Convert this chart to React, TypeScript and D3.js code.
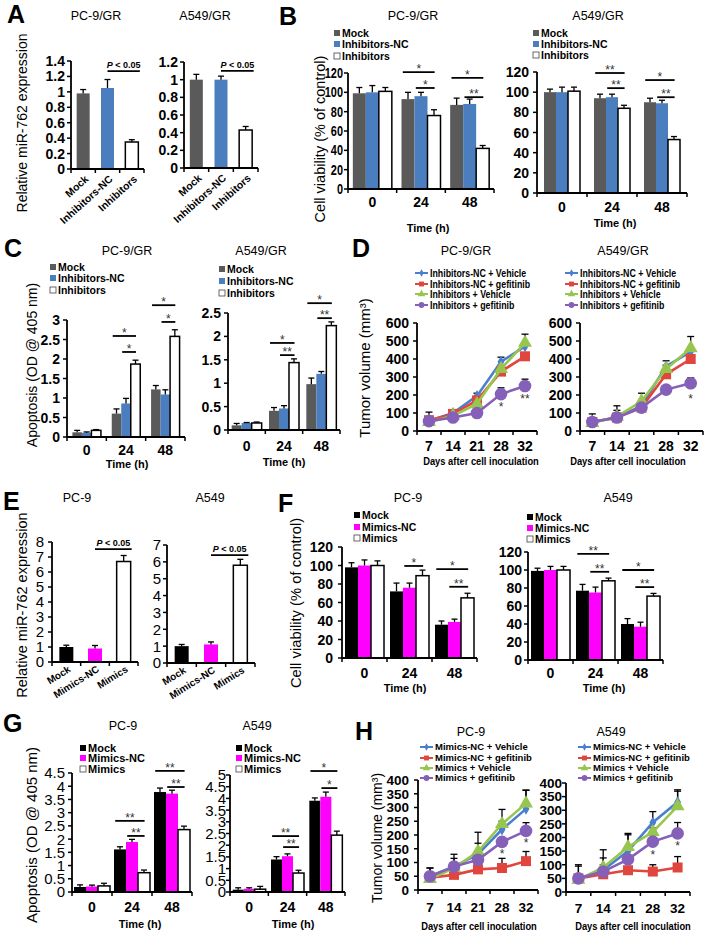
import React from "react";
import * as d3 from "d3";

const FONT = "'Liberation Sans', Arial, Helvetica, sans-serif";

// ---------------- categories & labels ----------------
const inhibitorGroups = ["Mock", "Inhibitors-NC", "Inhibitors"];
const mimicGroups = ["Mock", "Mimics-NC", "Mimics"];
const timePoints = ["0", "24", "48"];
const days = ["7", "14", "21", "28", "32"];
const inhibitorLineNames = ["Inhibitors-NC + Vehicle", "Inhibitors-NC + gefitinib", "Inhibitors + Vehicle", "Inhibitors + gefitinib"];
const mimicLineNames = ["Mimics-NC + Vehicle", "Mimics-NC + gefitinib", "Mimics + Vehicle", "Mimics + gefitinib"];

// ---------------- A: relative miR-762 (inhibitors) ----------------
const aPC9 = [0.98, 1.05, 0.35];
const aPC9Err = [0.05, 0.11, 0.03];
const aA549 = [1.0, 1.0, 0.43];
const aA549Err = [0.06, 0.04, 0.04];
const aPC9PLine = 1.27;
const aA549PLine = 1.1;

// ---------------- B: cell viability (inhibitors) ----------------
const bPC9Mock = [99, 93, 87];
const bPC9MockErr = [6, 7, 7];
const bPC9NC = [100, 96, 88];
const bPC9NCErr = [7, 4, 5];
const bPC9Inh = [101, 76, 42];
const bPC9InhErr = [4, 6, 3];
const bA549Mock = [100, 94, 90];
const bA549MockErr = [3, 4, 4];
const bA549NC = [100, 95, 89];
const bA549NCErr = [5, 3, 3];
const bA549Inh = [101, 84, 53];
const bA549InhErr = [4, 3, 3];
const bPC9Sig: [number, number, number, number, string][] = [[1, 0, 2, 121, "*"], [1, 1, 2, 104.5, "*"], [2, 0, 2, 115, "*"], [2, 1, 2, 95, "**"]];
const bA549Sig: [number, number, number, number, string][] = [[1, 0, 2, 119, "**"], [1, 1, 2, 104, "**"], [2, 0, 2, 112, "*"], [2, 1, 2, 95, "**"]];

// ---------------- C: apoptosis (inhibitors) ----------------
const cPC9Mock = [0.12, 0.6, 1.22];
const cPC9MockErr = [0.05, 0.12, 0.1];
const cPC9NC = [0.11, 0.86, 1.09];
const cPC9NCErr = [0.02, 0.13, 0.12];
const cPC9Inh = [0.17, 1.87, 2.58];
const cPC9InhErr = [0.02, 0.1, 0.17];
const cA549Mock = [0.1, 0.41, 0.98];
const cA549MockErr = [0.04, 0.07, 0.13];
const cA549NC = [0.15, 0.46, 1.2];
const cA549NCErr = [0.01, 0.06, 0.05];
const cA549Inh = [0.15, 1.44, 2.23];
const cA549InhErr = [0.02, 0.08, 0.08];
const cPC9Sig: [number, number, number, number, string][] = [[1, 0, 2, 2.59, "*"], [1, 1, 2, 2.18, "*"], [2, 0, 2, 3.38, "*"], [2, 1, 2, 2.95, "*"]];
const cA549Sig: [number, number, number, number, string][] = [[1, 0, 2, 1.86, "*"], [1, 1, 2, 1.6, "**"], [2, 0, 2, 2.71, "*"], [2, 1, 2, 2.39, "**"]];

// ---------------- D: tumor volume (inhibitors) ----------------
const dPC9NcVeh = [55, 100, 195, 385, 470];
const dPC9NcVehErr = [10, 15, 15, 25, 10];
const dPC9NcGef = [60, 95, 170, 330, 415];
const dPC9NcGefErr = [45, 10, 20, 15, 15];
const dPC9InVeh = [50, 85, 150, 345, 490];
const dPC9InVehErr = [10, 10, 15, 20, 48];
const dPC9InGef = [55, 75, 100, 205, 250];
const dPC9InGefErr = [10, 10, 10, 35, 38];
const dA549NcVeh = [50, 75, 140, 360, 440];
const dA549NcVehErr = [10, 65, 20, 30, 20];
const dA549NcGef = [50, 75, 130, 315, 400];
const dA549NcGefErr = [45, 40, 15, 15, 15];
const dA549InVeh = [45, 80, 165, 345, 460];
const dA549InVehErr = [10, 10, 45, 20, 65];
const dA549InGef = [50, 75, 130, 230, 265];
const dA549InGefErr = [10, 10, 10, 15, 30];
const dPC9Stars: [number, number, string][] = [[3, 155, "*"], [4, 200, "**"]];
const dA549Stars: [number, number, string][] = [[4, 200, "*"]];

// ---------------- E: relative miR-762 (mimics) ----------------
const ePC9 = [1.0, 0.9, 6.7];
const ePC9Err = [0.12, 0.2, 0.4];
const eA549 = [1.0, 1.1, 5.8];
const eA549Err = [0.1, 0.15, 0.35];
const ePC9PLine = 7.53;
const eA549PLine = 6.4;

// ---------------- F: cell viability (mimics) ----------------
const fPC9Mock = [98, 72, 36];
const fPC9MockErr = [5, 9, 4];
const fPC9NC = [100, 76, 39];
const fPC9NCErr = [6, 5, 3];
const fPC9Mim = [100, 89, 65];
const fPC9MimErr = [5, 6, 5];
const fA549Mock = [99, 77, 40];
const fA549MockErr = [3, 7, 6];
const fA549NC = [100, 75, 37];
const fA549NCErr = [4, 6, 5];
const fA549Mim = [100, 88, 71];
const fA549MimErr = [4, 3, 3];
const fPC9Sig: [number, number, number, number, string][] = [[1, 1, 2, 99.5, "*"], [2, 0, 2, 96, "*"], [2, 1, 2, 77, "**"]];
const fA549Sig: [number, number, number, number, string][] = [[1, 0, 2, 118, "**"], [1, 1, 2, 98, "**"], [2, 0, 2, 100, "*"], [2, 1, 2, 81, "**"]];

// ---------------- G: apoptosis (mimics) ----------------
const gPC9Mock = [0.19, 1.61, 3.78];
const gPC9MockErr = [0.08, 0.1, 0.15];
const gPC9NC = [0.21, 1.89, 3.72];
const gPC9NCErr = [0.05, 0.1, 0.13];
const gPC9Mim = [0.23, 0.73, 2.36];
const gPC9MimErr = [0.1, 0.1, 0.13];
const gA549Mock = [0.1, 1.39, 3.9];
const gA549MockErr = [0.08, 0.12, 0.12];
const gA549NC = [0.14, 1.53, 4.07];
const gA549NCErr = [0.04, 0.1, 0.2];
const gA549Mim = [0.12, 0.81, 2.43];
const gA549MimErr = [0.12, 0.12, 0.17];
const gPC9Sig: [number, number, number, number, string][] = [[1, 0, 2, 2.69, "**"], [1, 1, 2, 2.12, "**"], [2, 0, 2, 4.58, "**"], [2, 1, 2, 3.97, "**"]];
const gA549Sig: [number, number, number, number, string][] = [[1, 0, 2, 2.39, "**"], [1, 1, 2, 1.92, "**"], [2, 0, 2, 5.17, "*"], [2, 1, 2, 4.44, "*"]];

// ---------------- H: tumor volume (mimics) ----------------
const hPC9NcVeh = [50, 85, 130, 220, 295];
const hPC9NcVehErr = [30, 30, 40, 30, 68];
const hPC9NcGef = [45, 55, 75, 80, 105];
const hPC9NcGefErr = [35, 10, 15, 35, 35];
const hPC9MiVeh = [40, 80, 140, 240, 315];
const hPC9MiVehErr = [10, 20, 70, 53, 48];
const hPC9MiGef = [50, 85, 110, 175, 215];
const hPC9MiGefErr = [10, 45, 10, 15, 30];
const hA549NcVeh = [50, 80, 150, 255, 330];
const hA549NcVehErr = [50, 45, 60, 40, 45];
const hA549NcGef = [50, 65, 80, 75, 90];
const hA549NcGefErr = [45, 10, 10, 25, 40];
const hA549MiVeh = [45, 90, 165, 220, 315];
const hA549MiVehErr = [10, 10, 50, 15, 55];
const hA549MiGef = [50, 75, 120, 185, 215];
const hA549MiGefErr = [10, 80, 10, 15, 40];
const hPC9Stars: [number, number, string][] = [[3, 145, "*"], [4, 185, "*"]];
const hA549Stars: [number, number, string][] = [[3, 147, "*"], [4, 183, "*"]];

// ---------------- styles ----------------
type Sty = { fill: string; stroke: string; sw: number };
const inhStyles: Sty[] = [
  { fill: "#5a5a5a", stroke: "none", sw: 0 },
  { fill: "#4a7ebf", stroke: "none", sw: 0 },
  { fill: "#ffffff", stroke: "#000", sw: 1.5 },
];
const mimStyles: Sty[] = [
  { fill: "#000000", stroke: "none", sw: 0 },
  { fill: "#ff00ff", stroke: "none", sw: 0 },
  { fill: "#ffffff", stroke: "#000", sw: 1.5 },
];
const lineColors = ["#4a7fd0", "#e0463e", "#97c64f", "#8560b8"];
const lineSymbols = [d3.symbolDiamond, d3.symbolSquare, d3.symbolTriangle, d3.symbolCircle];
const symbolSizes = [40, 100, 85, 125];
const legendSymbolSizes = [16, 24, 24, 26];

type Frame = { x0: number; x1: number; y0: number; yTop: number; max: number; step: number; tick: number; tickW: any; gap?: number; tsx?: number };

const frA1: Frame = { x0: 71, x1: 144, y0: 169, yTop: 61, max: 1.4, step: 0.2, tick: 14, tickW: "bold" };
const frA2: Frame = { x0: 184, x1: 258, y0: 168, yTop: 62, max: 1.2, step: 0.2, tick: 14, tickW: "bold" };
const frB1: Frame = { x0: 348, x1: 494, y0: 189, yTop: 73, max: 120, step: 20, tick: 14, tickW: "bold", gap: 5, tsx: 0.78 };
const frB2: Frame = { x0: 537, x1: 687, y0: 193, yTop: 72, max: 120, step: 20, tick: 14, tickW: "bold", gap: 8 };
const frC1: Frame = { x0: 67, x1: 185, y0: 437, yTop: 320, max: 3, step: 0.5, tick: 14, tickW: "bold", gap: 7 };
const frC2: Frame = { x0: 228, x1: 340, y0: 430, yTop: 313, max: 2.5, step: 0.5, tick: 14, tickW: "bold", gap: 7 };
const frD1: Frame = { x0: 417, x1: 537, y0: 431, yTop: 323, max: 600, step: 100, tick: 14, tickW: "bold", gap: 8 };
const frD2: Frame = { x0: 580, x1: 703, y0: 431, yTop: 323, max: 600, step: 100, tick: 14, tickW: "bold", gap: 8 };
const frE1: Frame = { x0: 52, x1: 138, y0: 662, yTop: 542, max: 8, step: 1, tick: 15, tickW: "normal", gap: 8 };
const frE2: Frame = { x0: 167, x1: 255, y0: 663, yTop: 545, max: 7, step: 1, tick: 15, tickW: "normal", gap: 6 };
const frF1: Frame = { x0: 342, x1: 477, y0: 658, yTop: 547, max: 120, step: 20, tick: 14, tickW: "bold", gap: 9 };
const frF2: Frame = { x0: 528, x1: 663, y0: 660, yTop: 552, max: 120, step: 20, tick: 14, tickW: "bold", gap: 6 };
const frG1: Frame = { x0: 72, x1: 192, y0: 892, yTop: 773, max: 4.5, step: 0.5, tick: 15, tickW: "normal", gap: 7 };
const frG2: Frame = { x0: 230, x1: 345, y0: 892, yTop: 775, max: 5, step: 0.5, tick: 15, tickW: "normal", gap: 4 };
const frH1: Frame = { x0: 418, x1: 538, y0: 890, yTop: 780, max: 400, step: 50, tick: 13.5, tickW: "bold", gap: 9 };
const frH2: Frame = { x0: 566, x1: 690, y0: 892, yTop: 783, max: 400, step: 50, tick: 13.5, tickW: "bold", gap: 4 };

const fmt = (v: number) => String(Math.round(v * 100) / 100);
const ticksOf = (max: number, step: number) =>
  d3.range(0, Math.round(max / step) + 1).map((i) => Math.round(i * step * 1000) / 1000);
const yScale = (f: Frame) => d3.scaleLinear().domain([0, f.max]).range([f.y0, f.yTop]);

function Txt(p: { x: number; y: number; size: number; weight?: any; anchor?: string; rot?: number; sx?: number; fill?: string; children: any }) {
  const { x, y, size, weight = "normal", anchor = "start", rot = 0, sx = 1, fill = "#000" } = p;
  return (
    <text transform={`translate(${x},${y}) rotate(${rot}) scale(${sx},1)`} fontSize={size} fontWeight={weight} textAnchor={anchor as any} fill={fill}>
      {p.children}
    </text>
  );
}

function YAxis({ f }: { f: Frame }) {
  const y = yScale(f);
  const gap = f.gap ?? 6;
  return (
    <g>
      <line x1={f.x0} x2={f.x0} y1={f.y0} y2={f.yTop} stroke="#000" strokeWidth={1.8} />
      {ticksOf(f.max, f.step).map((t) => (
        <g key={t}>
          <line x1={f.x0 - 4} x2={f.x0} y1={y(t)} y2={y(t)} stroke="#000" strokeWidth={1.5} />
          <Txt x={f.x0 - gap} y={y(t) + f.tick * 0.36} size={f.tick} weight={f.tickW} anchor="end" sx={f.tsx ?? 1}>
            {fmt(t)}
          </Txt>
        </g>
      ))}
    </g>
  );
}

function XAxis({ f, x, labelSize, labelDy }: { f: Frame; x: d3.ScaleBand<string>; labelSize?: number; labelDy?: number }) {
  const bounds = [...x.domain().map((d) => x(d)!), f.x1];
  return (
    <g>
      <line x1={f.x0} x2={f.x1} y1={f.y0} y2={f.y0} stroke="#000" strokeWidth={1.8} />
      {bounds.map((b, i) => (
        <line key={i} x1={b} x2={b} y1={f.y0} y2={f.y0 + 4} stroke="#000" strokeWidth={1.5} />
      ))}
      {labelSize
        ? x.domain().map((d) => (
            <Txt key={d} x={x(d)! + x.bandwidth() / 2} y={f.y0 + (labelDy ?? 17)} size={labelSize} weight="bold" anchor="middle">
              {d}
            </Txt>
          ))
        : null}
    </g>
  );
}

function ErrBar({ cx, y1, y2, w = 6 }: { cx: number; y1: number; y2: number; w?: number }) {
  return (
    <g stroke="#000" strokeWidth={1.3}>
      <line x1={cx} x2={cx} y1={y1} y2={y2} />
      <line x1={cx - w / 2} x2={cx + w / 2} y1={y2} y2={y2} />
    </g>
  );
}

function SimpleBars(p: { f: Frame; cats: string[]; vals: number[]; errs: number[]; styles: Sty[]; barW: number; pLine: number; rot: number; lsize: number; ldx: number; ldy: number }) {
  const { f, cats, vals, errs, styles, barW } = p;
  const x = d3.scaleBand<string>().domain(cats).range([f.x0, f.x1]);
  const y = yScale(f);
  const cx = (i: number) => x(cats[i])! + x.bandwidth() / 2;
  const px1 = cx(1);
  const px2 = cx(2) + 8;
  return (
    <g>
      {vals.map((v, i) => (
        <g key={i}>
          <rect x={cx(i) - barW / 2} y={y(v)} width={barW} height={f.y0 - y(v)} fill={styles[i].fill} stroke={styles[i].stroke} strokeWidth={styles[i].sw} />
          <ErrBar cx={cx(i)} y1={y(v)} y2={y(v + errs[i])} />
        </g>
      ))}
      <YAxis f={f} />
      <XAxis f={f} x={x} />
      {cats.map((c, i) => (
        <Txt key={c} x={cx(i) + p.ldx} y={f.y0 + p.ldy} size={p.lsize} weight="bold" anchor="end" rot={p.rot}>
          {c}
        </Txt>
      ))}
      <line x1={px1} x2={px2} y1={y(p.pLine)} y2={y(p.pLine)} stroke="#000" strokeWidth={1.8} />
      <text x={(px1 + px2) / 2} y={y(p.pLine) - 3} fontSize={9} fontWeight="bold" textAnchor="middle">
        <tspan fontStyle="italic">P</tspan> &lt; 0.05
      </text>
    </g>
  );
}

function GroupedBars(p: { f: Frame; series: number[][]; errs: number[][]; styles: Sty[]; barW: number; sigs: [number, number, number, number, string][]; lsize: number; ldy: number }) {
  const { f, series, errs, styles, barW, sigs } = p;
  const x = d3.scaleBand<string>().domain(timePoints).range([f.x0, f.x1]);
  const y = yScale(f);
  const cx = (g: number, s: number) => x(timePoints[g])! + x.bandwidth() / 2 + (s - (series.length - 1) / 2) * barW;
  return (
    <g>
      {series.map((vals, s) =>
        vals.map((v, g) => (
          <g key={s + "-" + g}>
            <rect x={cx(g, s) - barW / 2} y={y(v)} width={barW} height={f.y0 - y(v)} fill={styles[s].fill} stroke={styles[s].stroke} strokeWidth={styles[s].sw} />
            <ErrBar cx={cx(g, s)} y1={y(v)} y2={y(v + errs[s][g])} />
          </g>
        ))
      )}
      <YAxis f={f} />
      <XAxis f={f} x={x} labelSize={p.lsize} labelDy={p.ldy} />
      {sigs.map(([g, a, b, v, lab], i) => {
        const x1 = cx(g, a) - barW * 0.4;
        const x2 = cx(g, b) + barW * 0.05;
        return (
          <g key={i}>
            <line x1={x1} x2={x2} y1={y(v)} y2={y(v)} stroke="#000" strokeWidth={1.8} />
            <text x={(x1 + x2) / 2} y={y(v) + 1} fontSize={12} textAnchor="middle" fill="#333">
              {lab}
            </text>
          </g>
        );
      })}
    </g>
  );
}

function BarLegend({ x, ys, names, styles, size }: { x: number; ys: number[]; names: string[]; styles: Sty[]; size: number }) {
  return (
    <g>
      {names.map((n, i) => (
        <g key={n}>
          <rect x={x - 3} y={ys[i] - 3} width={6} height={6} fill={styles[i].fill} stroke={styles[i].stroke === "none" ? "none" : "#444"} strokeWidth={0.8} />
          <Txt x={x + 5} y={ys[i] + size * 0.36} size={size} weight="bold">
            {n}
          </Txt>
        </g>
      ))}
    </g>
  );
}

function LineChart(p: { f: Frame; series: number[][]; errs: number[][]; stars: [number, number, string][]; lsize: number; ldy: number }) {
  const { f, series, errs, stars } = p;
  const x = d3.scaleBand<string>().domain(days).range([f.x0, f.x1]);
  const y = yScale(f);
  const px = (i: number) => x(days[i])! + x.bandwidth() / 2;
  const line = d3
    .line<number>()
    .x((_, i) => px(i))
    .y((v) => y(v));
  return (
    <g>
      {series.map((vals, s) =>
        vals.map((v, i) => <ErrBar key={s + "-" + i} cx={px(i)} y1={y(v)} y2={y(v + errs[s][i])} w={7} />)
      )}
      {series.map((vals, s) => (
        <g key={s}>
          <path d={line(vals) ?? ""} fill="none" stroke={lineColors[s]} strokeWidth={2.6} />
          {vals.map((v, i) => (
            <path key={i} d={d3.symbol(lineSymbols[s], symbolSizes[s])() ?? ""} transform={`translate(${px(i)},${y(v)})`} fill={lineColors[s]} />
          ))}
        </g>
      ))}
      <YAxis f={f} />
      <XAxis f={f} x={x} labelSize={p.lsize} labelDy={p.ldy} />
      {stars.map(([i, v, lab], k) => (
        <text key={k} x={px(i)} y={y(v) + 7.5} fontSize={12} textAnchor="middle" fill="#333">
          {lab}
        </text>
      ))}
    </g>
  );
}

function LineLegend({ x, ys, names, size, sx }: { x: number; ys: number[]; names: string[]; size: number; sx: number }) {
  return (
    <g>
      {names.map((n, i) => (
        <g key={n}>
          <line x1={x} x2={x + 13} y1={ys[i]} y2={ys[i]} stroke={lineColors[i]} strokeWidth={2} />
          <path d={d3.symbol(lineSymbols[i], legendSymbolSizes[i])() ?? ""} transform={`translate(${x + 6.5},${ys[i]})`} fill={lineColors[i]} />
          <Txt x={x + 15} y={ys[i] + size * 0.36} size={size} weight="bold" sx={sx}>
            {n}
          </Txt>
        </g>
      ))}
    </g>
  );
}

const Letter = ({ x, y, t }: { x: number; y: number; t: string }) => (
  <Txt x={x} y={y} size={25} weight="bold">
    {t}
  </Txt>
);
const Title = ({ x, y, t }: { x: number; y: number; t: string }) => (
  <Txt x={x} y={y} size={12.5} anchor="middle">
    {t}
  </Txt>
);
const YTitle = ({ x, y, t, size }: { x: number; y: number; t: string; size: number }) => (
  <Txt x={x} y={y} size={size} anchor="middle" rot={-90}>
    {t}
  </Txt>
);
const XTitle = ({ x, y, t, sx = 1 }: { x: number; y: number; t: string; sx?: number }) => (
  <Txt x={x} y={y} size={11} weight="bold" anchor="middle" sx={sx}>
    {t}
  </Txt>
);

export default function App() {
  return (
    <svg width={709} height={934} style={{ position: "absolute", left: 0, top: 0, background: "#fff" }} fontFamily={FONT}>
      <rect x={0} y={0} width={709} height={934} fill="#fff" />

      {/* ---------- A ---------- */}
      <Letter x={7} y={23} t="A" />
      <Title x={96} y={20} t="PC-9/GR" />
      <Title x={205} y={20} t="A549/GR" />
      <YTitle x={27} y={123} t="Relative miR-762 expression" size={14} />
      <SimpleBars f={frA1} cats={inhibitorGroups} vals={aPC9} errs={aPC9Err} styles={inhStyles} barW={13} pLine={aPC9PLine} rot={-42} lsize={10.5} ldx={6} ldy={11} />
      <SimpleBars f={frA2} cats={inhibitorGroups} vals={aA549} errs={aA549Err} styles={inhStyles} barW={13} pLine={aA549PLine} rot={-42} lsize={10.5} ldx={6} ldy={11} />

      {/* ---------- B ---------- */}
      <Letter x={279} y={25} t="B" />
      <Title x={413} y={20} t="PC-9/GR" />
      <Title x={598} y={20} t="A549/GR" />
      <YTitle x={325} y={139} t="Cell viability (% of control)" size={14.5} />
      <BarLegend x={337} ys={[33, 44, 56]} names={inhibitorGroups} styles={inhStyles} size={10.5} />
      <BarLegend x={536} ys={[33, 44, 55]} names={inhibitorGroups} styles={inhStyles} size={10.5} />
      <GroupedBars f={frB1} series={[bPC9Mock, bPC9NC, bPC9Inh]} errs={[bPC9MockErr, bPC9NCErr, bPC9InhErr]} styles={inhStyles} barW={13} sigs={bPC9Sig} lsize={14} ldy={18} />
      <GroupedBars f={frB2} series={[bA549Mock, bA549NC, bA549Inh]} errs={[bA549MockErr, bA549NCErr, bA549InhErr]} styles={inhStyles} barW={12} sigs={bA549Sig} lsize={14} ldy={19} />
      <XTitle x={428} y={232} t="Time (h)" />
      <XTitle x={615} y={227} t="Time (h)" />

      {/* ---------- C ---------- */}
      <Letter x={4} y={257} t="C" />
      <Title x={127} y={255} t="PC-9/GR" />
      <Title x={261} y={255} t="A549/GR" />
      <YTitle x={37} y={365} t="Apoptosis (OD @ 405 nm)" size={14} />
      <BarLegend x={53} ys={[267, 278, 290]} names={inhibitorGroups} styles={inhStyles} size={10.5} />
      <BarLegend x={222} ys={[269, 281, 293]} names={inhibitorGroups} styles={inhStyles} size={10.5} />
      <GroupedBars f={frC1} series={[cPC9Mock, cPC9NC, cPC9Inh]} errs={[cPC9MockErr, cPC9NCErr, cPC9InhErr]} styles={inhStyles} barW={9.5} sigs={cPC9Sig} lsize={14} ldy={18} />
      <GroupedBars f={frC2} series={[cA549Mock, cA549NC, cA549Inh]} errs={[cA549MockErr, cA549NCErr, cA549InhErr]} styles={inhStyles} barW={10} sigs={cA549Sig} lsize={14} ldy={21} />
      <XTitle x={127} y={468} t="Time (h)" />
      <XTitle x={284} y={466} t="Time (h)" />

      {/* ---------- D ---------- */}
      <Letter x={352} y={257} t="D" />
      <Title x={466} y={255} t="PC-9/GR" />
      <Title x={623} y={255} t="A549/GR" />
      <YTitle x={370} y={368} t="Tumor volume (mm³)" size={15} />
      <LineLegend x={415} ys={[273, 284, 294, 305]} names={inhibitorLineNames} size={10.5} sx={0.84} />
      <LineLegend x={565} ys={[273, 284, 294, 305]} names={inhibitorLineNames} size={10.5} sx={0.84} />
      <LineChart f={frD1} series={[dPC9NcVeh, dPC9NcGef, dPC9InVeh, dPC9InGef]} errs={[dPC9NcVehErr, dPC9NcGefErr, dPC9InVehErr, dPC9InGefErr]} stars={dPC9Stars} lsize={14} ldy={20} />
      <LineChart f={frD2} series={[dA549NcVeh, dA549NcGef, dA549InVeh, dA549InGef]} errs={[dA549NcVehErr, dA549NcGefErr, dA549InVehErr, dA549InGefErr]} stars={dA549Stars} lsize={14} ldy={20} />
      <XTitle x={481} y={465} t="Days after cell inoculation" sx={0.85} />
      <XTitle x={628} y={465} t="Days after cell inoculation" sx={0.85} />

      {/* ---------- E ---------- */}
      <Letter x={3} y={510} t="E" />
      <Title x={77} y={502} t="PC-9" />
      <Title x={210} y={502} t="A549" />
      <YTitle x={27} y={605} t="Relative miR-762 expression" size={14.5} />
      <SimpleBars f={frE1} cats={mimicGroups} vals={ePC9} errs={ePC9Err} styles={mimStyles} barW={14} pLine={ePC9PLine} rot={-32} lsize={10} ldx={5} ldy={9} />
      <SimpleBars f={frE2} cats={mimicGroups} vals={eA549} errs={eA549Err} styles={mimStyles} barW={14} pLine={eA549PLine} rot={-32} lsize={10} ldx={5} ldy={9} />

      {/* ---------- F ---------- */}
      <Letter x={278} y={512} t="F" />
      <Title x={408} y={502} t="PC-9" />
      <Title x={618} y={502} t="A549" />
      <YTitle x={301} y={603} t="Cell viability (% of control)" size={14.8} />
      <BarLegend x={357} ys={[515, 527, 538]} names={mimicGroups} styles={mimStyles} size={10.5} />
      <BarLegend x={530} ys={[517, 528, 539]} names={mimicGroups} styles={mimStyles} size={10.5} />
      <GroupedBars f={frF1} series={[fPC9Mock, fPC9NC, fPC9Mim]} errs={[fPC9MockErr, fPC9NCErr, fPC9MimErr]} styles={mimStyles} barW={13} sigs={fPC9Sig} lsize={14} ldy={20} />
      <GroupedBars f={frF2} series={[fA549Mock, fA549NC, fA549Mim]} errs={[fA549MockErr, fA549NCErr, fA549MimErr]} styles={mimStyles} barW={13} sigs={fA549Sig} lsize={14} ldy={18} />
      <XTitle x={405} y={692} t="Time (h)" />
      <XTitle x={604} y={692} t="Time (h)" />

      {/* ---------- G ---------- */}
      <Letter x={3} y={732} t="G" />
      <Title x={123} y={730} t="PC-9" />
      <Title x={257} y={730} t="A549" />
      <YTitle x={37} y={835} t="Apoptosis (OD @ 405 nm)" size={15} />
      <BarLegend x={83} ys={[748, 758, 769]} names={mimicGroups} styles={mimStyles} size={11} />
      <BarLegend x={239} ys={[748, 758, 769]} names={mimicGroups} styles={mimStyles} size={11} />
      <GroupedBars f={frG1} series={[gPC9Mock, gPC9NC, gPC9Mim]} errs={[gPC9MockErr, gPC9NCErr, gPC9MimErr]} styles={mimStyles} barW={12} sigs={gPC9Sig} lsize={14} ldy={20} />
      <GroupedBars f={frG2} series={[gA549Mock, gA549NC, gA549Mim]} errs={[gA549MockErr, gA549NCErr, gA549MimErr]} styles={mimStyles} barW={11} sigs={gA549Sig} lsize={14} ldy={20} />
      <XTitle x={140} y={928} t="Time (h)" />
      <XTitle x={293} y={928} t="Time (h)" />

      {/* ---------- H ---------- */}
      <Letter x={355} y={740} t="H" />
      <Title x={471} y={736} t="PC-9" />
      <Title x={611} y={736} t="A549" />
      <YTitle x={382} y={838} t="Tumor volume (mm³)" size={14} />
      <LineLegend x={420} ys={[747, 758, 768, 778]} names={mimicLineNames} size={9.5} sx={1} />
      <LineLegend x={578} ys={[747, 758, 768, 778]} names={mimicLineNames} size={9.5} sx={1} />
      <LineChart f={frH1} series={[hPC9NcVeh, hPC9NcGef, hPC9MiVeh, hPC9MiGef]} errs={[hPC9NcVehErr, hPC9NcGefErr, hPC9MiVehErr, hPC9MiGefErr]} stars={hPC9Stars} lsize={13.5} ldy={22} />
      <LineChart f={frH2} series={[hA549NcVeh, hA549NcGef, hA549MiVeh, hA549MiGef]} errs={[hA549NcVehErr, hA549NcGefErr, hA549MiVehErr, hA549MiGefErr]} stars={hA549Stars} lsize={13.5} ldy={21} />
      <XTitle x={479} y={930} t="Days after cell inoculation" sx={0.85} />
      <XTitle x={633} y={930} t="Days after cell inoculation" sx={0.85} />
    </svg>
  );
}
